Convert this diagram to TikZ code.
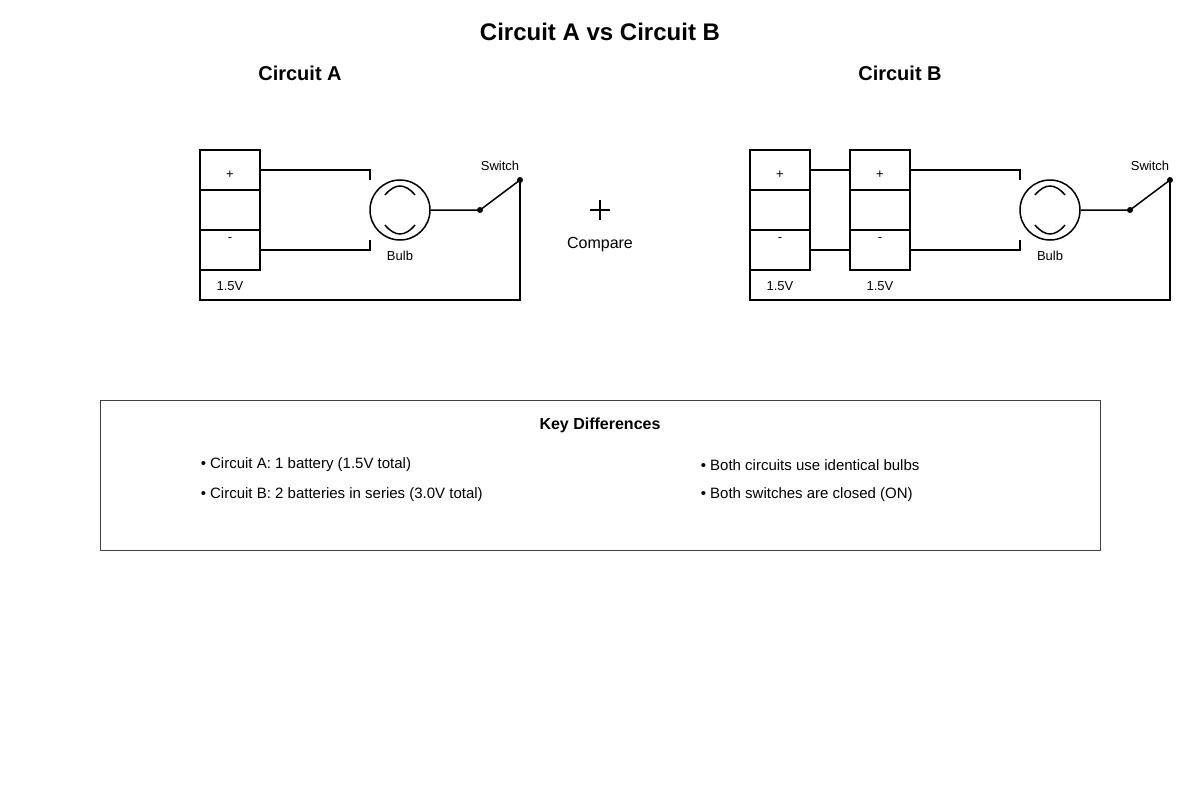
\documentclass[tikz,border=0pt]{standalone}
\usepackage{fontspec}
\setmainfont{Liberation Sans}
\begin{document}
\begin{tikzpicture}[x=1pt,y=-1pt,line width=1.5pt,
  sm/.style={font=\fontsize{13}{15}\selectfont,inner sep=0},
  md/.style={font=\fontsize{15}{18}\selectfont,inner sep=0},
  dot/.style={circle,fill=black,inner sep=0,minimum size=6pt},
  lw/.style={line width=1.5pt}]
\useasboundingbox (0,0) rectangle (1200,800);
\node[font=\bfseries\fontsize{24}{28}\selectfont] (title) at (600,32) {Circuit A vs Circuit B};
\node[font=\bfseries\fontsize{20}{24}\selectfont] (ta) at (300,73) {Circuit A};
\node[font=\bfseries\fontsize{20}{24}\selectfont] (tb) at (900,73) {Circuit B};
% battery macro via loops
\foreach \bx/\nm in {200/a1,750/b1,850/b2}{
  \draw (\bx,150) rectangle (\bx+60,270);
  \draw (\bx,190) -- (\bx+60,190);
  \draw (\bx,230) -- (\bx+60,230);
  \node[sm] at (\bx+30,175) {+};
  \node[sm] at (\bx+30,240) {-};
  \node[sm] at (\bx+30,286) {1.5V};
}
\draw (810,170) -- (850,170);
\draw (810,250) -- (850,250);
\foreach \o/\L in {0/a,650/b}{
  \begin{scope}[xshift=\o pt]
  \coordinate (\L p) at (260,170);
  \coordinate (\L m) at (260,250);
  \node[circle,draw,lw,minimum size=60pt,inner sep=0] (\L bulb) at (400,210) {};
  \draw (\L p) -- (370,170) -- (370,180);
  \draw (\L m) -- (370,250) -- (370,240);
  \draw (385,195) .. controls (395,183) and (405,183) .. (415,195);
  \draw (385,225) .. controls (395,237) and (405,237) .. (415,225);
  \node[dot] (\L s1) at (480,210) {};
  \node[dot] (\L s2) at (520,180) {};
  \draw (\L bulb.east) -- (\L s1.center) -- (\L s2.center);
  \node[sm] at (400,256) {Bulb};
  \node[sm] at (500,166) {Switch};
  \end{scope}
}
\draw (as2.center) -- (520,300) -- (200,300) -- (200,270);
\draw (bs2.center) -- (1170,300) -- (750,300) -- (750,270);
\draw (590,210) -- (610,210) (600,200) -- (600,220);
\node[md,font=\fontsize{16}{19}\selectfont] (cmp) at (600,245) {Compare};
\draw[line width=1pt,black!75] (100,400) rectangle (1100,550);
\node[font=\bfseries\fontsize{16}{19}\selectfont] (kd) at (600,425) {Key Differences};
\node[md,anchor=west] at (200,465) {• Circuit A: 1 battery (1.5V total)};
\node[md,anchor=west] at (200,495) {• Circuit B: 2 batteries in series (3.0V total)};
\node[md,anchor=west] at (700,465) {• Both circuits use identical bulbs};
\node[md,anchor=west] at (700,495) {• Both switches are closed (ON)};
\end{tikzpicture}
\end{document}
